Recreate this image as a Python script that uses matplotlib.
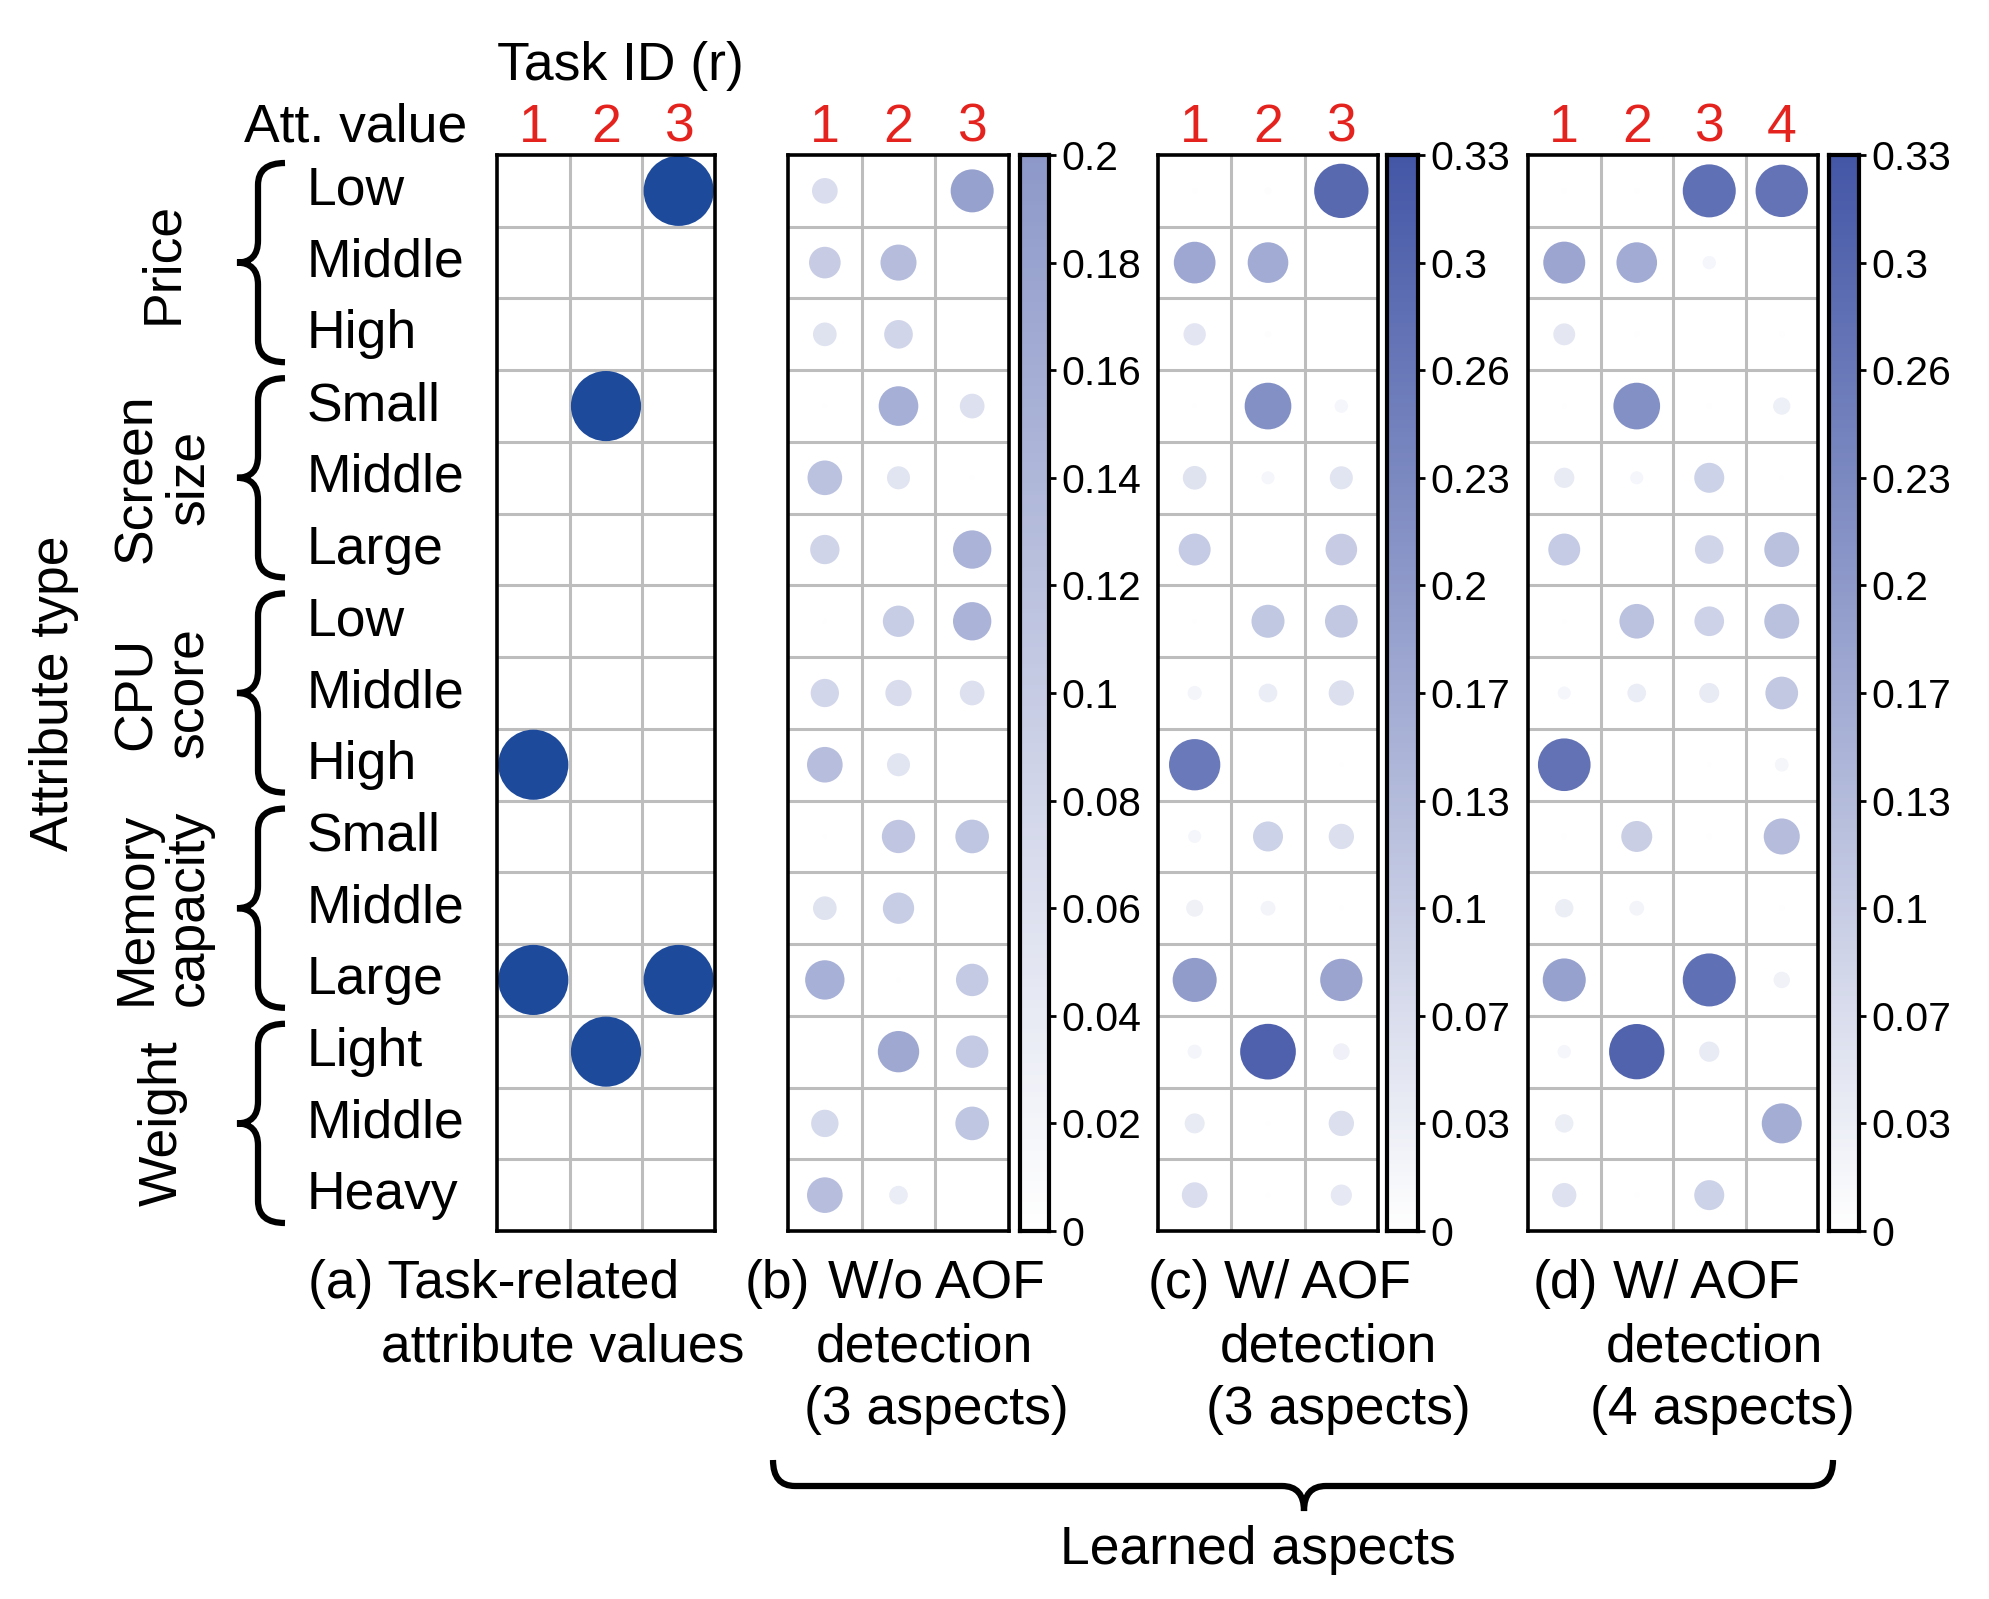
import matplotlib.pyplot as plt
import numpy as np
from matplotlib.colors import LinearSegmentedColormap, Normalize
from matplotlib.path import Path
from matplotlib.patches import PathPatch

plt.rcParams['font.family'] = ['Liberation Sans', 'DejaVu Sans']

# --- data -------------------------------------------------------------
att_values = ['Low', 'Middle', 'High',
              'Small', 'Middle', 'Large',
              'Low', 'Middle', 'High',
              'Small', 'Middle', 'Large',
              'Light', 'Middle', 'Heavy']
att_types = ['Price', 'Screen\nsize', 'CPU\nscore', 'Memory\ncapacity', 'Weight']

# (a) task-related attribute values (1 = related)
task_related = [[0, 0, 1], [0, 0, 0], [0, 0, 0],
                [0, 1, 0], [0, 0, 0], [0, 0, 0],
                [0, 0, 0], [0, 0, 0], [1, 0, 0],
                [0, 0, 0], [0, 0, 0], [1, 0, 1],
                [0, 1, 0], [0, 0, 0], [0, 0, 0]]

# (b) w/o AOF detection, 3 aspects
wo_aof_3 = [[0.066, 0.000, 0.185],
            [0.100, 0.130, 0.000],
            [0.056, 0.082, 0.000],
            [0.002, 0.157, 0.061],
            [0.120, 0.053, 0.002],
            [0.086, 0.000, 0.147],
            [0.002, 0.098, 0.147],
            [0.080, 0.069, 0.061],
            [0.127, 0.053, 0.000],
            [0.002, 0.111, 0.113],
            [0.056, 0.098, 0.000],
            [0.155, 0.002, 0.105],
            [0.000, 0.171, 0.105],
            [0.075, 0.000, 0.113],
            [0.127, 0.035, 0.000]]

# (c) w/ AOF detection, 3 aspects
w_aof_3 = [[0.003, 0.005, 0.295],
           [0.174, 0.165, 0.000],
           [0.050, 0.004, 0.000],
           [0.002, 0.218, 0.018],
           [0.056, 0.017, 0.053],
           [0.102, 0.000, 0.100],
           [0.002, 0.109, 0.107],
           [0.020, 0.035, 0.064],
           [0.263, 0.000, 0.002],
           [0.017, 0.090, 0.064],
           [0.029, 0.022, 0.002],
           [0.194, 0.000, 0.179],
           [0.020, 0.310, 0.028],
           [0.040, 0.002, 0.064],
           [0.066, 0.002, 0.045]]

# (d) w/ AOF detection, 4 aspects
w_aof_4 = [[0.003, 0.003, 0.281, 0.274],
           [0.176, 0.165, 0.018, 0.000],
           [0.048, 0.003, 0.000, 0.003],
           [0.002, 0.218, 0.003, 0.030],
           [0.041, 0.017, 0.090, 0.002],
           [0.102, 0.000, 0.082, 0.122],
           [0.002, 0.120, 0.088, 0.122],
           [0.017, 0.035, 0.040, 0.107],
           [0.277, 0.000, 0.002, 0.019],
           [0.003, 0.096, 0.003, 0.130],
           [0.034, 0.022, 0.000, 0.003],
           [0.185, 0.000, 0.281, 0.027],
           [0.018, 0.306, 0.041, 0.000],
           [0.034, 0.000, 0.000, 0.160],
           [0.059, 0.003, 0.090, 0.000]]

cbar_b_ticks = [0, 0.02, 0.04, 0.06, 0.08, 0.1, 0.12, 0.14, 0.16, 0.18, 0.2]
cbar_cd_labels = ['0', '0.03', '0.07', '0.1', '0.13', '0.17', '0.2', '0.23', '0.26', '0.3', '0.33']

# --- layout (pixels) --------------------------------------------------
W, H = 1989, 1599
TOP, BOT = 155, 1231
FS = 38.5
RED = '#E5231E'
GRID = '#BDBDBD'

cmap = LinearSegmentedColormap.from_list('aof', ['#FFFFFF', '#4457A7'])
norm = Normalize(0, 0.33)

fig = plt.figure(figsize=(W / 100, H / 100), dpi=100)


def box(l, r):
    return [l / W, 1 - BOT / H, (r - l) / W, (BOT - TOP) / H]


def panel(l, r, data, dark=None, scale=5184):
    data = np.asarray(data, dtype=float)
    nr, nc = data.shape
    ax = fig.add_axes(box(l, r))
    ax.set_xlim(0.5, nc + 0.5)
    ax.set_ylim(nr + 0.5, 0.5)
    for k in range(1, nr):
        ax.axhline(k + 0.5, color=GRID, lw=2.2, zorder=1)
    for k in range(1, nc):
        ax.axvline(k + 0.5, color=GRID, lw=2.2, zorder=1)
    cols, rows = np.meshgrid(np.arange(1, nc + 1), np.arange(1, nr + 1))
    v = data.ravel()
    m = v > 0
    if dark is not None:
        ax.scatter(cols.ravel()[m], rows.ravel()[m], s=scale * v[m],
                   color=dark, edgecolors='none', zorder=3)
    else:
        ax.scatter(cols.ravel()[m], rows.ravel()[m], s=scale * v[m],
                   c=v[m], cmap=cmap, norm=norm, edgecolors='none', zorder=3)
    ax.set_xticks([])
    ax.set_yticks([])
    for sp in ax.spines.values():
        sp.set_linewidth(2.6)
        sp.set_zorder(5)
    # red task / aspect numbers above the columns
    off = 13 / ((BOT - TOP) / nr)
    for j in range(nc):
        ax.text(j + 1, 0.5 - off, str(j + 1), color=RED, fontsize=FS,
                ha='center', va='baseline')
    return ax


def colorbar(l, r, vmax, ticks, labels):
    cax = fig.add_axes(box(l, r))
    grad = np.linspace(0, vmax, 256)[:, None]
    cax.imshow(grad, origin='lower', aspect='auto', cmap=cmap, norm=norm,
               extent=[0, 1, 0, vmax])
    cax.set_xlim(0, 1)
    cax.set_ylim(0, vmax)
    cax.set_xticks([])
    cax.yaxis.tick_right()
    cax.set_yticks(ticks)
    cax.set_yticklabels(labels, fontsize=29.5)
    cax.tick_params(axis='y', length=5, width=2, pad=4)
    for sp in cax.spines.values():
        sp.set_linewidth(3)


panel(497, 715, task_related, dark='#1E4A9B', scale=2550)
panel(788, 1009, wo_aof_3)
colorbar(1020, 1049, 0.2, cbar_b_ticks, [f'{t:g}' for t in cbar_b_ticks])
panel(1158, 1378, w_aof_3)
colorbar(1387, 1418, 0.33, np.linspace(0, 0.33, 11), cbar_cd_labels)
panel(1528, 1818, w_aof_4)
colorbar(1829, 1859, 0.33, np.linspace(0, 0.33, 11), cbar_cd_labels)

# --- overlay for labels and braces (pixel coordinates) -----------------
ov = fig.add_axes([0, 0, 1, 1])
ov.set_xlim(0, W)
ov.set_ylim(H, 0)
ov.axis('off')

ch = (BOT - TOP) / 15

ov.text(497, 80, 'Task ID (r)', fontsize=FS, ha='left', va='baseline')
ov.text(467, 142, 'Att. value', fontsize=FS, ha='right', va='baseline')

for i, lab in enumerate(att_values):
    ov.text(307, TOP + (i + 0.5) * ch + 14, lab, fontsize=FS, ha='left', va='baseline')


def vbrace(y0, y1, xr=285, xs=258, xt=237, r=22):
    ym = (y0 + y1) / 2
    verts = [(xr, y0), (xs, y0), (xs, y0 + r), (xs, ym - r),
             (xs, ym), (xt, ym), (xs, ym), (xs, ym + r),
             (xs, y1 - r), (xs, y1), (xr, y1)]
    codes = [Path.MOVETO, Path.CURVE3, Path.CURVE3, Path.LINETO,
             Path.CURVE3, Path.CURVE3, Path.CURVE3, Path.CURVE3,
             Path.LINETO, Path.CURVE3, Path.CURVE3]
    ov.add_patch(PathPatch(Path(verts, codes), fill=False, lw=4.5,
                           capstyle='butt', joinstyle='miter'))


for g, name in enumerate(att_types):
    y0 = TOP + 3 * g * ch + 8
    y1 = TOP + (3 * g + 3) * ch - 8
    vbrace(y0, y1)
    ov.text(163, TOP + (3 * g + 1.5) * ch, name, fontsize=FS, rotation=90,
            ha='center', va='center', multialignment='center', linespacing=1.05)

ov.text(54, (TOP + BOT) / 2, 'Attribute type', fontsize=FS, rotation=90,
        ha='center', va='center')

# captions
L1, L2, L3 = 1298, 1361, 1424
ov.text(308, L1, '(a) Task-related', fontsize=FS, ha='left', va='baseline')
ov.text(381, L2, 'attribute values', fontsize=FS, ha='left', va='baseline')

for tag, xt, xcs, lines in [('(b)', 745, (936, 924, 936), ['W/o AOF', 'detection', '(3 aspects)']),
                            ('(c)', 1148, (1318, 1328, 1338), ['W/ AOF', 'detection', '(3 aspects)']),
                            ('(d)', 1533, (1707, 1714, 1722), ['W/ AOF', 'detection', '(4 aspects)'])]:
    ov.text(xt, L1, tag, fontsize=FS, ha='left', va='baseline')
    for y, xc, s in zip((L1, L2, L3), xcs, lines):
        ov.text(xc, y, s, fontsize=FS, ha='center', va='baseline')

# bottom brace under (b)-(d)
x0, x1, xm = 773, 1833, 1304
yt, ys, yp, r = 1460, 1486, 1511, 22
verts = [(x0, yt), (x0, ys), (x0 + r, ys), (xm - r, ys),
         (xm, ys), (xm, yp), (xm, ys), (xm + r, ys),
         (x1 - r, ys), (x1, ys), (x1, yt)]
codes = [Path.MOVETO, Path.CURVE3, Path.CURVE3, Path.LINETO,
         Path.CURVE3, Path.CURVE3, Path.CURVE3, Path.CURVE3,
         Path.LINETO, Path.CURVE3, Path.CURVE3]
ov.add_patch(PathPatch(Path(verts, codes), fill=False, lw=4.5))
ov.text(1258, 1564, 'Learned aspects', fontsize=FS, ha='center', va='baseline')

fig.savefig('out.png', dpi=100)
